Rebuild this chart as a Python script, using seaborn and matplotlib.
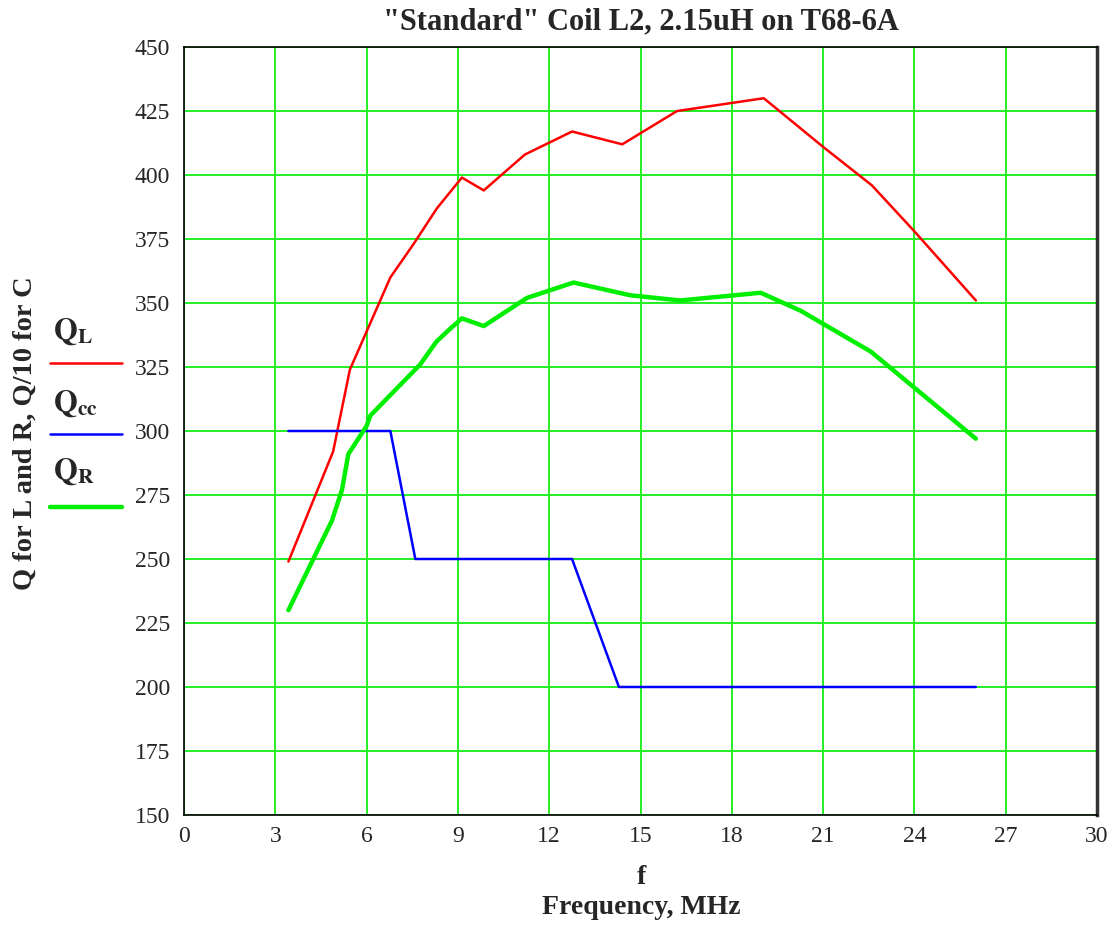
import numpy as np
import pandas as pd
import seaborn as sns
import matplotlib
matplotlib.use('Agg')
import matplotlib.pyplot as plt
from matplotlib.lines import Line2D

# values
f_L = [3.43, 4.9, 5.45, 6.78, 7.54, 8.31, 9.13, 9.85, 11.2, 12.75, 14.4, 16.2, 19.05, 21.0, 22.6, 24.0, 26.02]
q_L = [249, 292, 324, 360, 373, 387, 399, 394, 408, 417, 412, 425, 430, 411, 396, 378, 351]

f_cc = [3.43, 6.78, 7.6, 12.75, 14.29, 26.02]
q_cc = [300, 300, 250, 250, 200, 200]

f_R = [3.43, 4.86, 5.19, 5.4, 6.0, 6.12, 7.76, 8.3, 8.75, 9.13, 9.85, 11.27, 12.8, 14.67, 16.3, 18.95, 20.26, 22.57, 26.02]
q_R = [230, 265, 277, 291, 302, 306, 326, 335, 340, 344, 341, 352, 358, 353, 351, 354, 347, 331, 297]

sns.set_style('white')
plt.rcParams['font.family'] = ['Liberation Serif', 'DejaVu Serif']
plt.rcParams['mathtext.fontset'] = 'stix'

fig = plt.figure(figsize=(11.12, 9.26), dpi=100)
ax = fig.add_axes([0.1655, 0.1199, 0.821, 0.8293])

df_L = pd.DataFrame({'f': f_L, 'Q': q_L})
df_cc = pd.DataFrame({'f': f_cc, 'Q': q_cc})
df_R = pd.DataFrame({'f': f_R, 'Q': q_R})

sns.lineplot(data=df_L, x='f', y='Q', ax=ax, color='#ff0000', lw=1.8, sort=False)
sns.lineplot(data=df_cc, x='f', y='Q', ax=ax, color='#0000ff', lw=1.8, sort=False)
sns.lineplot(data=df_R, x='f', y='Q', ax=ax, color='#00ee00', lw=3.2, sort=False)

ax.set_xlim(0, 30)
ax.set_ylim(150, 450)
ax.set_xticks(np.arange(0, 31, 3))
ax.set_yticks(np.arange(150, 451, 25))
ax.grid(True, color='#22ee22', lw=1.4)
ax.set_axisbelow(True)
ax.tick_params(axis='both', length=0, labelsize=17)
ax.tick_params(axis='x', pad=8)
ax.tick_params(axis='y', pad=10)
for s in ax.spines.values():
    s.set_color('black')
    s.set_linewidth(1.2)
ax.spines['right'].set_color('#333333')
ax.spines['right'].set_linewidth(2.5)

ax.set_xlabel('')
ax.set_ylabel('')
fig.text(641 / 1112, 1 - 22 / 926, '"Standard" Coil L2, 2.15uH on T68-6A', ha='center', va='center',
         fontsize=22, fontweight='bold')

fig.text(641 / 1112, 1 - 878 / 926, 'f', ha='center', va='center', fontsize=20, fontweight='bold')
fig.text(641 / 1112, 1 - 908 / 926, 'Frequency, MHz', ha='center', va='center', fontsize=20, fontweight='bold')
fig.text(25 / 1112, 1 - 433 / 926, 'Q for L and R, Q/10 for C', rotation=90, ha='center', va='center',
         fontsize=20.5, fontweight='bold')

# legend drawn beside the y axis, label above each line sample
legend_items = [(r'$\mathbf{Q_L}$', '#ff0000', 1.8, 363, 332),
                (r'$\mathbf{Q_{cc}}$', '#0000ff', 1.8, 434, 404),
                (r'$\mathbf{Q_R}$', '#00ee00', 3.2, 507, 472)]
for lab, col, lw, ly, ty in legend_items:
    fig.add_artist(Line2D([50 / 1112, 122 / 1112], [1 - ly / 926, 1 - ly / 926], color=col, lw=lw))
    fig.text(53 / 1112, 1 - ty / 926, lab, ha='left', va='center', fontsize=22)

fig.savefig('out.png', dpi=100)
